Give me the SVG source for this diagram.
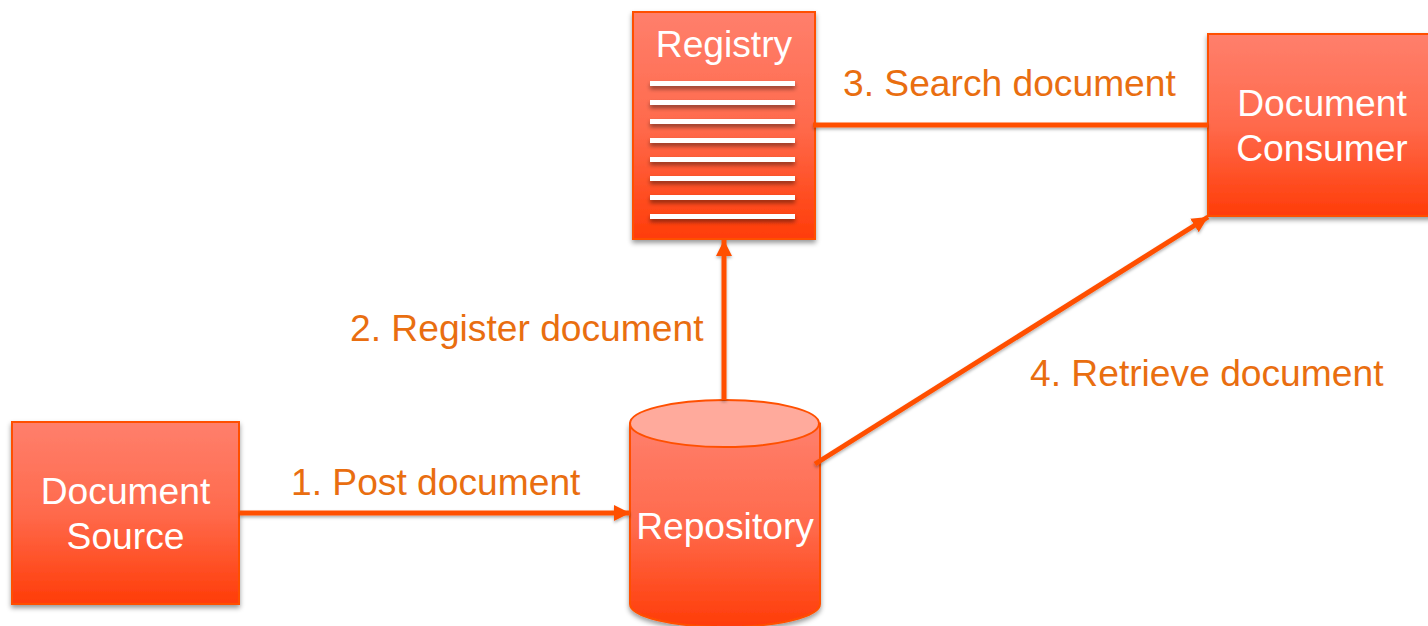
<svg xmlns="http://www.w3.org/2000/svg" width="1428" height="626" viewBox="0 0 1428 626">
<style>
.box{fill:url(#grad);stroke:#ff5000;stroke-width:2;filter:url(#sh)}
.nt{font-family:"Liberation Sans",Arial,sans-serif;font-size:37.2px;fill:#fff;text-anchor:middle}
.lb{font-family:"Liberation Sans",Arial,sans-serif;font-size:37.2px;fill:#e96e10}
.c{fill:none;stroke:#ff5000;stroke-width:5}
.ln{fill:#fff;filter:url(#sh2)}
</style>
<defs>
<linearGradient id="grad" x1="0" y1="0" x2="0" y2="1"><stop offset="0" stop-color="#ff7f6c"/><stop offset="0.5" stop-color="#ff6a4c"/><stop offset="1" stop-color="#ff3c08"/></linearGradient>
<filter id="sh" x="-10%" y="-10%" width="120%" height="120%"><feDropShadow dx="0" dy="3" stdDeviation="2.5" flood-color="#000" flood-opacity="0.4"/></filter>
<filter id="sh2" x="-10%" y="-200%" width="120%" height="600%"><feDropShadow dx="0" dy="3" stdDeviation="2" flood-color="#000" flood-opacity="0.45"/></filter>
<filter id="sh3" filterUnits="userSpaceOnUse" x="0" y="0" width="1428" height="626"><feDropShadow dx="0" dy="2" stdDeviation="1.500" flood-color="#000" flood-opacity="0.3"/></filter>
<marker id="arr" markerUnits="userSpaceOnUse" markerWidth="18" markerHeight="18" refX="16" refY="9" orient="auto"><path d="M0 1L16 9L0 17Z" fill="#ff5000"/></marker>
</defs>
<g id="source">
<rect class="box" x="12" y="422" width="227" height="182"/>
<text class="nt" x="125.500" y="504">Document</text>
<text class="nt" x="125.500" y="549">Source</text>
</g>
<g id="registry">
<rect class="box" x="633" y="12" width="182" height="227"/>
<text class="nt" x="724" y="57">Registry</text>
<rect class="ln" x="650" y="81" width="145" height="5"/>
<rect class="ln" x="650" y="100" width="145" height="5"/>
<rect class="ln" x="650" y="119" width="145" height="5"/>
<rect class="ln" x="650" y="138" width="145" height="5"/>
<rect class="ln" x="650" y="157" width="145" height="5"/>
<rect class="ln" x="650" y="176" width="145" height="5"/>
<rect class="ln" x="650" y="195" width="145" height="5"/>
<rect class="ln" x="650" y="214" width="145" height="5"/>
</g>
<g id="consumer">
<rect class="box" x="1208" y="34" width="240" height="182"/>
<text class="nt" x="1322" y="116">Document</text>
<text class="nt" x="1322" y="161">Consumer</text>
</g>
<g id="repository">
<path class="box" d="M630 423.500V604A95 23 0 0 0 820 604V423.500Z"/>
<ellipse cx="724.500" cy="423.500" rx="94.500" ry="23.500" fill="#ffaa9c" stroke="#ff5000" stroke-width="2"/>
<text class="nt" x="725" y="539">Repository</text>
</g>
<g id="connectors" filter="url(#sh3)">
<path class="c" d="M240 513H630" marker-end="url(#arr)"/>
<path class="c" d="M724 400V240" marker-end="url(#arr)"/>
<path class="c" d="M813 125H1208"/>
<path class="c" d="M815 464L1208 217" marker-end="url(#arr)"/>
</g>
<g id="labels">
<text class="lb" x="291" y="495">1. Post document</text>
<text class="lb" x="350" y="341">2. Register document</text>
<text class="lb" x="843" y="96">3. Search document</text>
<text class="lb" x="1030" y="386">4. Retrieve document</text>
</g>
</svg>
